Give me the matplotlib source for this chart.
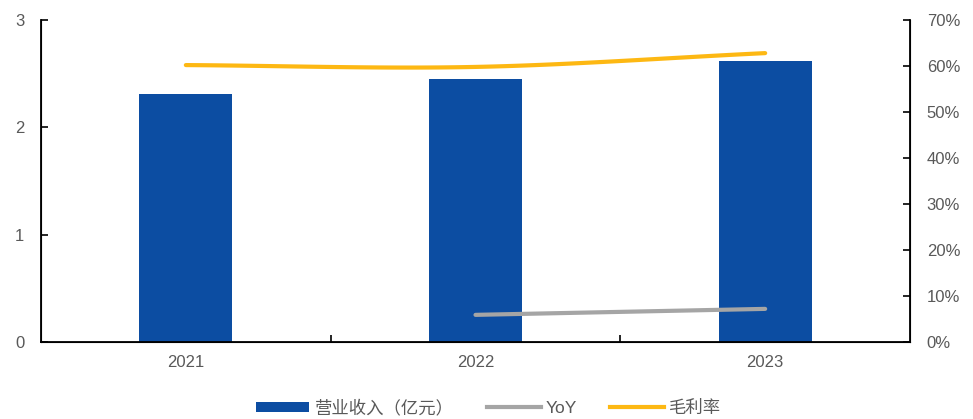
import numpy as np
import matplotlib.pyplot as plt
from matplotlib.patches import Patch
from matplotlib.lines import Line2D

plt.rcParams['font.family'] = ['Liberation Sans', 'Noto Sans CJK SC']

years = ['2021', '2022', '2023']
revenue = [2.31, 2.45, 2.62]          # 营业收入（亿元）
yoy = [None, 5.9, 7.2]                # YoY, %
gross_margin = [60.2, 59.8, 62.8]     # 毛利率, %

bar_color = '#0C4DA2'
yoy_color = '#A5A5A5'
gm_color = '#FDB813'
text_color = '#595959'


def smooth(xs, ys, n=40):
    # Catmull-Rom style smoothing through the data points
    xs = np.asarray(xs, float)
    ys = np.asarray(ys, float)
    px = np.concatenate([[2 * xs[0] - xs[1]], xs, [2 * xs[-1] - xs[-2]]])
    py = np.concatenate([[2 * ys[0] - ys[1]], ys, [2 * ys[-1] - ys[-2]]])
    out_x, out_y = [], []
    for i in range(1, len(px) - 2):
        t = np.linspace(0, 1, n)
        for arr, out in ((px, out_x), (py, out_y)):
            p0, p1, p2, p3 = arr[i - 1], arr[i], arr[i + 1], arr[i + 2]
            m1 = (p2 - p0) / 2
            m2 = (p3 - p1) / 2
            h00 = 2 * t**3 - 3 * t**2 + 1
            h10 = t**3 - 2 * t**2 + t
            h01 = -2 * t**3 + 3 * t**2
            h11 = t**3 - t**2
            out.extend(h00 * p1 + h10 * m1 + h01 * p2 + h11 * m2)
    return np.array(out_x), np.array(out_y)


fig = plt.figure(figsize=(9.73, 4.19), dpi=100)
ax = fig.add_axes([41 / 973, 77 / 419, 869 / 973, 322 / 419])
ax2 = ax.twinx()

x = np.arange(len(years))
ax.bar(x, revenue, width=0.32, color=bar_color, zorder=2)
ax.set_xlim(-0.5, 2.5)
ax.set_ylim(0, 3)
ax.set_yticks([0, 1, 2, 3])
ax.set_xticks(x)
ax.set_xticklabels(years)
ax.set_xticks([0.5, 1.5], minor=True)
ax.tick_params(axis='x', which='major', length=0, pad=9)
ax.tick_params(axis='x', which='minor', direction='in', length=5, width=1.2)
ax.tick_params(axis='y', direction='in', length=5, width=1.2, pad=12)
ax.tick_params(labelsize=12, labelcolor=text_color)

ax.spines['top'].set_visible(False)
ax2.spines['top'].set_visible(False)
for s in ('left', 'bottom'):
    ax.spines[s].set_linewidth(1.3)
ax2.spines['right'].set_linewidth(1.3)

ax2.set_ylim(0, 70)
ax2.set_yticks(range(0, 71, 10))
ax2.set_yticklabels([f'{v}%' for v in range(0, 71, 10)])
ax2.tick_params(axis='y', direction='in', length=5, width=1.2, pad=12,
                labelsize=12, labelcolor=text_color)

gx, gy = smooth(x, gross_margin)
ax2.plot(gx, gy, color=gm_color, lw=3, solid_capstyle='round', zorder=3)
yx = [i for i, v in enumerate(yoy) if v is not None]
yv = [v for v in yoy if v is not None]
ax2.plot(yx, yv, color=yoy_color, lw=3, solid_capstyle='round', zorder=3)

handles = [
    Patch(facecolor=bar_color, edgecolor='none'),
    Line2D([], [], color=yoy_color, lw=3),
    Line2D([], [], color=gm_color, lw=3),
]
labels = ['营业收入（亿元）', 'YoY', '毛利率']
leg = fig.legend(handles, labels, loc='center', bbox_to_anchor=(0.502, 0.027),
                 ncol=3, frameon=False, fontsize=12.5, handlelength=3.1,
                 handleheight=0.55, handletextpad=0.3, columnspacing=1.9)
for t in leg.get_texts():
    t.set_color(text_color)

fig.savefig('out.png', dpi=100)
